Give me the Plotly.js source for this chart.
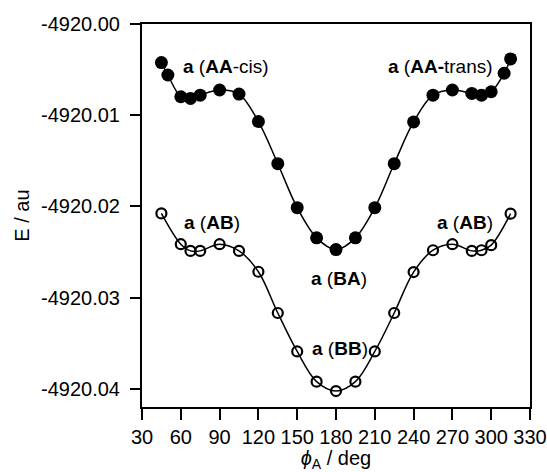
<!DOCTYPE html>
<html>
<head>
<meta charset="utf-8">
<script src="https://cdn.plot.ly/plotly-3.0.1.min.js"></script>
<style>html,body{margin:0;padding:0;background:#fff;}#chart{width:547px;height:472px;}</style>
</head>
<body>
<div id="chart"></div>
<script>
// Filled series (AA-cis / BA / AA-trans)
const phiFilled = [45, 50, 60, 67.5, 75, 90, 105, 120, 135, 150, 165, 180, 195, 210, 225, 240, 255, 270, 285, 292.5, 300, 310, 315];
const eFilled = [-4920.00423, -4920.00559, -4920.00798, -4920.00816, -4920.00780, -4920.00724, -4920.00768, -4920.01070, -4920.01532, -4920.02014, -4920.02345, -4920.02474, -4920.02345, -4920.02014, -4920.01532, -4920.01074, -4920.00780, -4920.00724, -4920.00761, -4920.00780, -4920.00743, -4920.00540, -4920.00383];
// Open series (AB / BB / AB)
const phiOpen = [45, 60, 67.5, 75, 90, 105, 120, 135, 150, 165, 180, 195, 210, 225, 240, 255, 270, 285, 292.5, 300, 315];
const eOpen = [-4920.02077, -4920.02415, -4920.02488, -4920.02488, -4920.02415, -4920.02488, -4920.02717, -4920.03169, -4920.03591, -4920.03922, -4920.04025, -4920.03922, -4920.03591, -4920.03169, -4920.02720, -4920.02481, -4920.02415, -4920.02488, -4920.02481, -4920.02425, -4920.02080];

const xTickVals = [30, 60, 90, 120, 150, 180, 210, 240, 270, 300, 330];
const xTickText = ["30", "60", "90", "120", "150", "180", "210", "240", "270", "300", "330"];
const yTickVals = [-4920.00, -4920.01, -4920.02, -4920.03, -4920.04];
const yTickText = ["-4920.00", "-4920.01", "-4920.02", "-4920.03", "-4920.04"];

const labelText = ["<b>a</b> (<b>AA</b>-cis)", "<b>a</b> (<b>AA-</b>trans)", "<b>a</b> (<b>AB</b>)", "<b>a</b> (<b>AB</b>)", "<b>a</b> (<b>BA</b>)", "<b>a</b> (<b>BB</b>)"];
const labelX = [94.7, 260.6, 84.1, 280, 182.4, 182.8];
const labelY = [-4920.00467, -4920.00467, -4920.02176, -4920.02176, -4920.02786, -4920.03555];

const FONT = "Liberation Sans, Arial, Helvetica, sans-serif";

const traces = [
  {
    x: phiFilled, y: eFilled, mode: "lines+markers", type: "scatter",
    line: {color: "#000", width: 1.5, shape: "spline", smoothing: 1},
    marker: {symbol: "circle", size: 13, color: "#000"},
    hoverinfo: "x+y"
  },
  {
    x: phiOpen, y: eOpen, mode: "lines+markers", type: "scatter",
    line: {color: "#000", width: 1.5, shape: "spline", smoothing: 1},
    marker: {symbol: "circle-open", size: 10, color: "#000", line: {color: "#000", width: 2.2}},
    hoverinfo: "x+y"
  }
];

const annotations = labelText.map((t, i) => ({
  x: labelX[i], y: labelY[i], xref: "x", yref: "y", text: t, showarrow: false,
  font: {family: FONT, size: 19, color: "#000"}, xanchor: "center", yanchor: "middle"
}));

const layout = {
  width: 547, height: 472,
  margin: {l: 142, r: 17, t: 24, b: 65},
  paper_bgcolor: "#fff", plot_bgcolor: "#fff",
  showlegend: false,
  font: {family: FONT, size: 20, color: "#000"},
  xaxis: {
    range: [30, 330], tickvals: xTickVals, ticktext: xTickText,
    ticks: "outside", ticklen: 11, tickwidth: 2, tickcolor: "#000",
    showline: true, linewidth: 2, linecolor: "#000", mirror: true,
    showgrid: false, zeroline: false, ticklabeloverflow: "allow",
    tickfont: {family: FONT, size: 20, color: "#000"},
    title: {text: "<i>ϕ</i><sub>A</sub> / deg", font: {family: FONT, size: 20, color: "#000"}, standoff: 4}
  },
  yaxis: {
    range: [-4920.0420, -4920.0000], tickvals: yTickVals, ticktext: yTickText,
    ticks: "outside", ticklen: 10, tickwidth: 2, tickcolor: "#000",
    showline: true, linewidth: 2, linecolor: "#000", mirror: true,
    showgrid: false, zeroline: false, ticklabelstandoff: 6,
    tickfont: {family: FONT, size: 20, color: "#000"},
    title: {text: "E / au", font: {family: FONT, size: 20, color: "#000"}, standoff: 6}
  },
  annotations: annotations
};

Plotly.newPlot("chart", traces, layout, {displayModeBar: false, staticPlot: true});
</script>
</body>
</html>
